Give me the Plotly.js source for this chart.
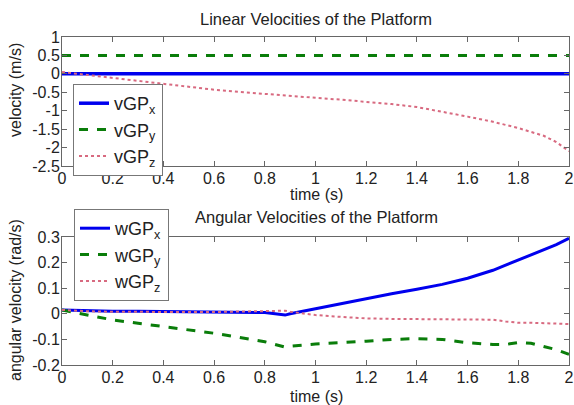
<!DOCTYPE html>
<html><head><meta charset="utf-8">
<script src="https://cdn.plot.ly/plotly-3.0.1.min.js"></script>
<style>html,body{margin:0;padding:0;background:#fff}#c{width:574px;height:405px}</style>
</head><body><div id="c"></div>
<script>
// Top panel: linear velocities
const tTop = [0,0.1,0.2,0.3,0.4,0.5,0.6,0.7,0.8,0.9,1.0,1.1,1.2,1.3,1.4,1.5,1.6,1.7,1.8,1.9,1.95,2.0];
const vGPx = [0,0,0,0,0,0,0,0,0,0,0,0,0,0,0,0,0,0,0,0,0,0];
const vGPy = [0.5,0.5,0.5,0.5,0.5,0.5,0.5,0.5,0.5,0.5,0.5,0.5,0.5,0.5,0.5,0.5,0.5,0.5,0.5,0.5,0.5,0.5];
const vGPz = [0.05,-0.03,-0.12,-0.21,-0.29,-0.36,-0.43,-0.49,-0.55,-0.6,-0.65,-0.7,-0.75,-0.82,-0.9,-1.02,-1.16,-1.3,-1.47,-1.68,-1.85,-2.1];

// Bottom panel: angular velocities
const tBot = [0,0.1,0.2,0.3,0.4,0.5,0.6,0.7,0.8,0.88,0.9,1.0,1.1,1.2,1.3,1.4,1.5,1.6,1.7,1.75,1.8,1.85,1.9,1.95,2.0];
const wGPx = [0.015,0.012,0.01,0.01,0.009,0.008,0.007,0.006,0.005,-0.005,0.0,0.02,0.04,0.06,0.078,0.096,0.115,0.139,0.17,0.19,0.21,0.23,0.25,0.27,0.295];
const wGPy = [0.015,-0.005,-0.024,-0.037,-0.05,-0.063,-0.076,-0.092,-0.109,-0.13,-0.127,-0.118,-0.113,-0.107,-0.1,-0.097,-0.1,-0.113,-0.12,-0.12,-0.112,-0.115,-0.128,-0.14,-0.158];
const wGPz = [0.015,0.01,0.008,0.007,0.007,0.007,0.007,0.008,0.01,0.012,0.008,-0.005,-0.012,-0.018,-0.02,-0.021,-0.021,-0.021,-0.023,-0.03,-0.035,-0.035,-0.037,-0.038,-0.04];

const xTicks = [0,0.2,0.4,0.6,0.8,1,1.2,1.4,1.6,1.8,2];
const yTicksTop = [-2.5,-2,-1.5,-1,-0.5,0,0.5,1];
const yTicksBot = [-0.2,-0.1,0,0.1,0.2,0.3];

const blue = '#0000ee', green = '#0a7d0a', red = '#d86a80';
const F = 'Liberation Sans, Arial, sans-serif';

const traces = [
  {x:tTop,y:vGPx,name:'vGP<sub>x</sub>',mode:'lines',line:{color:blue,width:3.5},xaxis:'x',yaxis:'y',legend:'legend'},
  {x:tTop,y:vGPy,name:'vGP<sub>y</sub>',mode:'lines',line:{color:green,width:3,dash:'dash'},xaxis:'x',yaxis:'y',legend:'legend'},
  {x:tTop,y:vGPz,name:'vGP<sub>z</sub>',mode:'lines',line:{color:red,width:2,dash:'dot'},xaxis:'x',yaxis:'y',legend:'legend'},
  {x:tBot,y:wGPx,name:'wGP<sub>x</sub>',mode:'lines',line:{color:blue,width:3},xaxis:'x2',yaxis:'y2',legend:'legend2'},
  {x:tBot,y:wGPy,name:'wGP<sub>y</sub>',mode:'lines',line:{color:green,width:3,dash:'dash'},xaxis:'x2',yaxis:'y2',legend:'legend2'},
  {x:tBot,y:wGPz,name:'wGP<sub>z</sub>',mode:'lines',line:{color:red,width:2,dash:'dot'},xaxis:'x2',yaxis:'y2',legend:'legend2'}
];

const ax = {
  showline:true, linecolor:'#666', linewidth:1, mirror:'ticks', ticks:'inside', ticklen:5, tickcolor:'#666',
  showgrid:false, zeroline:false, tickfont:{family:F,size:16,color:'#222'}, ticklabelstandoff:-2
};
const H = 405, W = 507;
const LF = {family:F,size:18,color:'#222'};
function ann(text,px,py,size,angle){
  return {text:text,x:(px-62)/W,y:1-py/H,xref:'paper',yref:'paper',xanchor:'center',yanchor:'middle',
          showarrow:false,textangle:angle||0,font:{family:F,size:size,color:'#222'}};
}
const layout = {
  width:574, height:405, margin:{l:62,r:5,t:0,b:0},
  paper_bgcolor:'#fff', plot_bgcolor:'#fff', font:{family:F,color:'#222'},
  xaxis:Object.assign({},ax,{domain:[0,1],range:[0,2],tickvals:xTicks,ticktext:xTicks.map(String),anchor:'y'}),
  yaxis:Object.assign({},ax,{domain:[1-166/H,1-37/H],range:[-2.5,1],tickvals:yTicksTop,ticktext:yTicksTop.map(String),anchor:'x'}),
  xaxis2:Object.assign({},ax,{domain:[0,1],range:[0,2],tickvals:xTicks,ticktext:xTicks.map(String),anchor:'y2'}),
  yaxis2:Object.assign({},ax,{domain:[1-365/H,1-237/H],range:[-0.2,0.3],tickvals:yTicksBot,ticktext:yTicksBot.map(String),anchor:'x2'}),
  legend:{x:11/W,y:1-84/H,xanchor:'left',yanchor:'top',bgcolor:'#fff',bordercolor:'#777',borderwidth:1,font:LF,tracegroupgap:0,itemwidth:30},
  legend2:{x:12/W,y:1-209/H,xanchor:'left',yanchor:'top',bgcolor:'#fff',bordercolor:'#777',borderwidth:1,font:LF,tracegroupgap:0,itemwidth:30},
  showlegend:true,
  annotations:[
    ann('Linear Velocities of the Platform',316,19,16.5),
    ann('Angular Velocities of the Platform',316,217,16.5),
    ann('time (s)',316,195,16),
    ann('time (s)',316,396,16),
    ann('velocity (m/s)',15,90,16,-90),
    ann('angular velocity (rad/s)',15,300,16,-90)
  ]
};
Plotly.newPlot('c',traces,layout,{staticPlot:true,displayModeBar:false});
</script></body></html>
